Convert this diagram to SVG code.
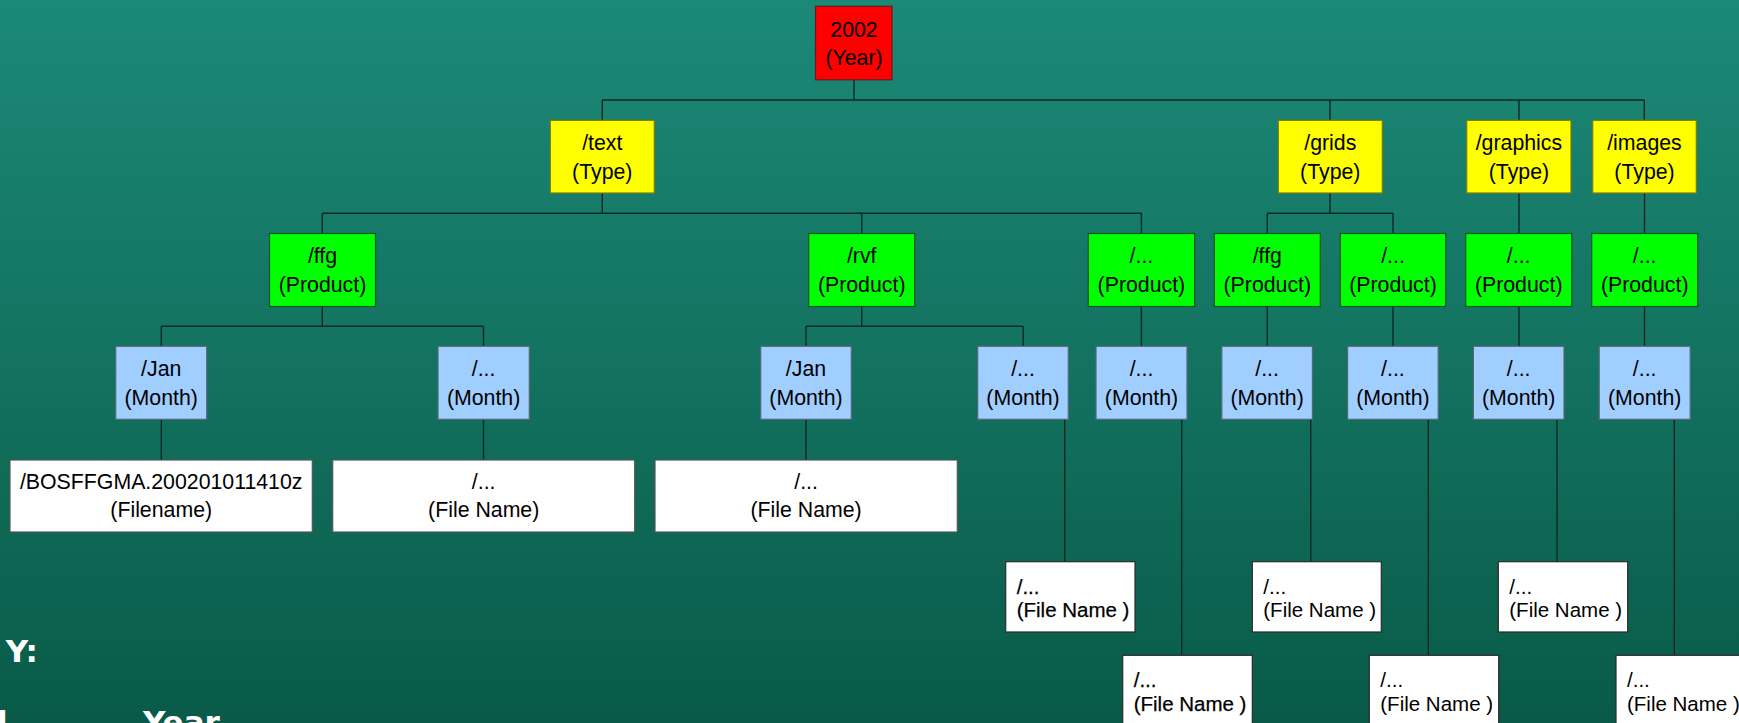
<svg xmlns="http://www.w3.org/2000/svg" width="1739" height="723" viewBox="0 0 1739 723">
  <defs>
    <linearGradient id="bg" x1="0" y1="0" x2="0" y2="1">
      <stop offset="0" stop-color="#1c8977"/>
      <stop offset="0.5" stop-color="#137260"/>
      <stop offset="1" stop-color="#095a48"/>
    </linearGradient>
    <style>
      .lbl { font-family: "Liberation Sans", Arial, sans-serif; font-size: 21.3px; fill: #000; text-anchor: middle; }
      .fl { font-family: "Liberation Sans", Arial, sans-serif; font-size: 20.5px; fill: #000; }
      .key { font-family: "DejaVu Sans", Verdana, sans-serif; font-size: 31px; font-weight: bold; fill: #fff; }
      .year { fill: #ff0000; stroke: #6a1a1a; stroke-width: 1.2; }
      .type { fill: #ffff00; stroke: #7a7a10; stroke-width: 1.2; }
      .prod { fill: #00ff00; stroke: #0c5a18; stroke-width: 1.2; }
      .month { fill: #9fceff; stroke: #566878; stroke-width: 1.2; }
      .file { fill: #ffffff; stroke: #555555; stroke-width: 1.2; }
      .sfile { fill: #ffffff; stroke: #2a2a2a; stroke-width: 1.2; }
      .bold { stroke: #000; stroke-width: 0.25; }
      #connectors path { fill: none; stroke: #0c2a24; stroke-width: 1.4; }
    </style>
  </defs>

  <rect x="0" y="0" width="1739" height="723" fill="url(#bg)"/>

  <!-- tree connectors -->
  <g id="connectors">
    <!-- year to types -->
    <path d="M854 80V100M602.3 100H1644.3M602.3 100V120.3M1330 100V120.3M1519 100V120.3M1644.3 100V120.3"/>
    <!-- types to products -->
    <path d="M602.3 193V213.3M322.3 213.3H1141.4M322.3 213.3V233.5M861.7 213.3V233.5M1141.4 213.3V233.5"/>
    <path d="M1330 193V213.3M1267.3 213.3H1393M1267.3 213.3V233.5M1393 213.3V233.5"/>
    <path d="M1519 193V233.5M1644.5 193V233.5"/>
    <!-- products to months -->
    <path d="M322.3 306.5V326.3M161.3 326.3H483.5M161.3 326.3V346.3M483.5 326.3V346.3"/>
    <path d="M861.7 306.5V326.3M806 326.3H1023.2M806 326.3V346.3M1023.2 326.3V346.3"/>
    <path d="M1141.4 306.5V346.3M1267.3 306.5V346.3M1393 306.5V346.3M1519 306.5V346.3M1644.5 306.5V346.3"/>
    <!-- months to files -->
    <path d="M161.3 419.3V460M483.5 419.3V460M806 419.3V460"/>
    <path d="M1064.7 419.3V561.7M1181.7 419.3V655.3M1310.7 419.3V561.7M1428.3 419.3V655.3M1557 419.3V561.7M1674.3 419.3V655.3"/>
  </g>

  <!-- year -->
  <g id="n-2002">
    <rect class="year" x="815.5" y="6.3" width="76.5" height="73.5"/>
    <text class="lbl" x="854" y="36.8">2002</text>
    <text class="lbl" x="854" y="65">(Year)</text>
  </g>

  <!-- types -->
  <g id="n-text">
    <rect class="type" x="550.3" y="120.3" width="104" height="72.7"/>
    <text class="lbl" x="602.3" y="149.5">/text</text>
    <text class="lbl" x="602.3" y="178.5">(Type)</text>
  </g>
  <g id="n-grids">
    <rect class="type" x="1278.3" y="120.3" width="104" height="72.7"/>
    <text class="lbl" x="1330.3" y="149.5">/grids</text>
    <text class="lbl" x="1330.3" y="178.5">(Type)</text>
  </g>
  <g id="n-graphics">
    <rect class="type" x="1466.7" y="120.3" width="104.3" height="72.7"/>
    <text class="lbl" x="1518.9" y="149.5">/graphics</text>
    <text class="lbl" x="1518.9" y="178.5">(Type)</text>
  </g>
  <g id="n-images">
    <rect class="type" x="1592.7" y="120.3" width="103.6" height="72.7"/>
    <text class="lbl" x="1644.5" y="149.5">/images</text>
    <text class="lbl" x="1644.5" y="178.5">(Type)</text>
  </g>

  <!-- products -->
  <g id="n-text-ffg">
    <rect class="prod" x="269.5" y="233.5" width="106" height="73"/>
    <text class="lbl" x="322.5" y="263">/ffg</text>
    <text class="lbl" x="322.5" y="291.5">(Product)</text>
  </g>
  <g id="n-text-rvf">
    <rect class="prod" x="808.7" y="233.5" width="106" height="73"/>
    <text class="lbl" x="861.7" y="263">/rvf</text>
    <text class="lbl" x="861.7" y="291.5">(Product)</text>
  </g>
  <g id="n-text-more">
    <rect class="prod" x="1088.3" y="233.5" width="106.3" height="73"/>
    <text class="lbl" x="1141.4" y="263">/...</text>
    <text class="lbl" x="1141.4" y="291.5">(Product)</text>
  </g>
  <g id="n-grids-ffg">
    <rect class="prod" x="1214.3" y="233.5" width="106" height="73"/>
    <text class="lbl" x="1267.3" y="263">/ffg</text>
    <text class="lbl" x="1267.3" y="291.5">(Product)</text>
  </g>
  <g id="n-grids-more">
    <rect class="prod" x="1340.3" y="233.5" width="105.4" height="73"/>
    <text class="lbl" x="1393" y="263">/...</text>
    <text class="lbl" x="1393" y="291.5">(Product)</text>
  </g>
  <g id="n-graphics-more">
    <rect class="prod" x="1465.7" y="233.5" width="106" height="73"/>
    <text class="lbl" x="1518.7" y="263">/...</text>
    <text class="lbl" x="1518.7" y="291.5">(Product)</text>
  </g>
  <g id="n-images-more">
    <rect class="prod" x="1591.7" y="233.5" width="106" height="73"/>
    <text class="lbl" x="1644.7" y="263">/...</text>
    <text class="lbl" x="1644.7" y="291.5">(Product)</text>
  </g>

  <!-- months -->
  <g id="m-ffg-jan">
    <rect class="month" x="115.7" y="346.3" width="91" height="73"/>
    <text class="lbl" x="161.2" y="376.2">/Jan</text>
    <text class="lbl" x="161.2" y="404.5">(Month)</text>
  </g>
  <g id="m-ffg-more">
    <rect class="month" x="438" y="346.3" width="91.3" height="73"/>
    <text class="lbl" x="483.6" y="376.2">/...</text>
    <text class="lbl" x="483.6" y="404.5">(Month)</text>
  </g>
  <g id="m-rvf-jan">
    <rect class="month" x="760.7" y="346.3" width="90.6" height="73"/>
    <text class="lbl" x="806" y="376.2">/Jan</text>
    <text class="lbl" x="806" y="404.5">(Month)</text>
  </g>
  <g id="m-rvf-more">
    <rect class="month" x="977.7" y="346.3" width="90.6" height="73"/>
    <text class="lbl" x="1023" y="376.2">/...</text>
    <text class="lbl" x="1023" y="404.5">(Month)</text>
  </g>
  <g id="m-text-more">
    <rect class="month" x="1096" y="346.3" width="91" height="73"/>
    <text class="lbl" x="1141.5" y="376.2">/...</text>
    <text class="lbl" x="1141.5" y="404.5">(Month)</text>
  </g>
  <g id="m-grids-ffg">
    <rect class="month" x="1221.8" y="346.3" width="90.6" height="73"/>
    <text class="lbl" x="1267.1" y="376.2">/...</text>
    <text class="lbl" x="1267.1" y="404.5">(Month)</text>
  </g>
  <g id="m-grids-more">
    <rect class="month" x="1347.6" y="346.3" width="90.6" height="73"/>
    <text class="lbl" x="1392.9" y="376.2">/...</text>
    <text class="lbl" x="1392.9" y="404.5">(Month)</text>
  </g>
  <g id="m-graphics">
    <rect class="month" x="1473.4" y="346.3" width="90.6" height="73"/>
    <text class="lbl" x="1518.7" y="376.2">/...</text>
    <text class="lbl" x="1518.7" y="404.5">(Month)</text>
  </g>
  <g id="m-images">
    <rect class="month" x="1599.2" y="346.3" width="91" height="73"/>
    <text class="lbl" x="1644.7" y="376.2">/...</text>
    <text class="lbl" x="1644.7" y="404.5">(Month)</text>
  </g>

  <!-- file names, wide boxes -->
  <g id="f-ffg-jan">
    <rect class="file" x="10" y="460" width="302.3" height="72"/>
    <text class="lbl" x="161.2" y="488.7">/BOSFFGMA.200201011410z</text>
    <text class="lbl" x="161.2" y="516.8">(Filename)</text>
  </g>
  <g id="f-ffg-more">
    <rect class="file" x="332.7" y="460" width="302" height="72"/>
    <text class="lbl" x="483.7" y="488.7">/...</text>
    <text class="lbl" x="483.7" y="516.8">(File Name)</text>
  </g>
  <g id="f-rvf-jan">
    <rect class="file" x="655" y="460" width="302.3" height="72"/>
    <text class="lbl" x="806.1" y="488.7">/...</text>
    <text class="lbl" x="806.1" y="516.8">(File Name)</text>
  </g>

  <!-- file names, small boxes -->
  <g id="f-rvf-more">
    <rect class="sfile" x="1005.7" y="561.7" width="129.3" height="70.3"/>
    <text class="fl bold" x="1016.7" y="593.5">/...</text>
    <text class="fl bold" x="1016.7" y="617">(File Name )</text>
  </g>
  <g id="f-text-more">
    <rect class="sfile" x="1122.7" y="655.3" width="129.6" height="72"/>
    <text class="fl bold" x="1133.7" y="687">/...</text>
    <text class="fl bold" x="1133.7" y="710.5">(File Name )</text>
  </g>
  <g id="f-grids-ffg">
    <rect class="sfile" x="1252.3" y="561.7" width="129" height="70.3"/>
    <text class="fl" x="1263.3" y="593.5">/...</text>
    <text class="fl" x="1263.3" y="617">(File Name )</text>
  </g>
  <g id="f-grids-more">
    <rect class="sfile" x="1369.3" y="655.3" width="129.4" height="72"/>
    <text class="fl" x="1380.3" y="687">/...</text>
    <text class="fl" x="1380.3" y="710.5">(File Name )</text>
  </g>
  <g id="f-graphics">
    <rect class="sfile" x="1498.3" y="561.7" width="129.4" height="70.3"/>
    <text class="fl" x="1509.3" y="593.5">/...</text>
    <text class="fl" x="1509.3" y="617">(File Name )</text>
  </g>
  <g id="f-images">
    <rect class="sfile" x="1616" y="655.3" width="130" height="72"/>
    <text class="fl" x="1627" y="687">/...</text>
    <text class="fl" x="1627" y="710.5">(File Name )</text>
  </g>

  <!-- legend, running off the lower left edge -->
  <g id="legend">
    <text class="key" x="38" y="662" text-anchor="end">Y:</text>
    <text class="key" x="-3" y="733">l</text>
    <text class="key" x="143" y="733">Year</text>
  </g>
</svg>
